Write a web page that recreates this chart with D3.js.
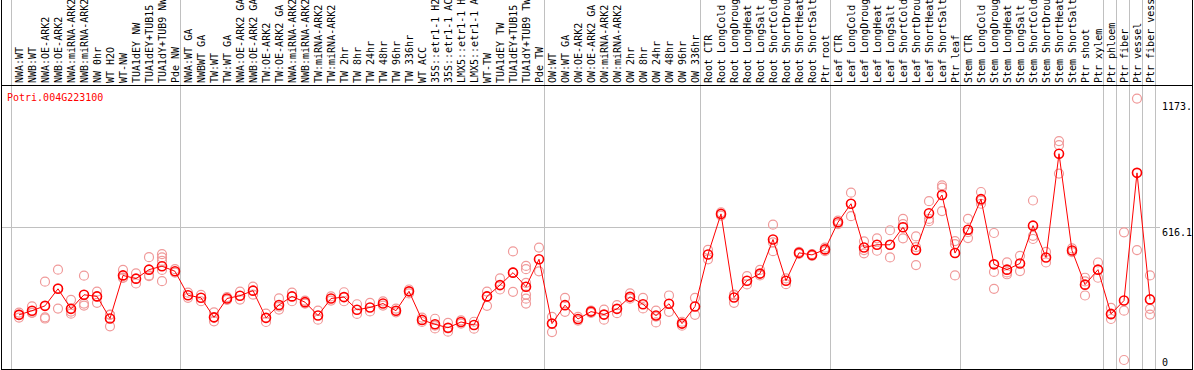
<!DOCTYPE html>
<html>
<head>
<meta charset="utf-8">
<script src="https://cdn.jsdelivr.net/npm/d3@7"></script>
<style>
body { margin: 0; background: #fff; }
text { font-family: "DejaVu Sans Mono", monospace; font-size: 10px; }
</style>
</head>
<body>
<div id="chart"></div>
<script>
var geneName = "Potri.004G223100";

var sampleLabels = [
  "NWA:WT","NWB:WT","NWA:OE-ARK2","NWB:OE-ARK2","NWA:miRNA-ARK2","NWB:miRNA-ARK2","NW 0hr","WT H2O","WT-NW","TUA1dEY NW","TUA1dEY+TUB15","TUA1dY+TUB9 NW","Pde NW",
  "NWA:WT GA","NWBWT GA","TW:WT","TW:WT GA","NWA:OE-ARK2 GA","NWB:OE-ARK2 GA","TW:OE-ARK2","TW:OE-ARK2 GA","NWA:miRNA-ARK2","NWB:miRNA-ARK2","TW:miRNA-ARK2","TW:miRNA-ARK2","TW 2hr","TW 8hr","TW 24hr","TW 48hr","TW 96hr","TW 336hr","WT ACC","35S::etr1-1 H2","35S::etr1-1 AC","LMX5::etr1-1 H","LMX5::etr1-1 A","WT-TW","TUA1dEY TW","TUA1dEY+TUB15","TUA1dY+TUB9 TW","Pde TW",
  "OW:WT","OW:WT GA","OW:OE-ARK2","OW:OE-ARK2 GA","OW:miRNA-ARK2","OW:miRNA-ARK2","OW 2hr","OW 8hr","OW 24hr","OW 48hr","OW 96hr","OW 336hr",
  "Root CTR","Root LongCold","Root LongDroug","Root LongHeat","Root LongSalt","Root ShortCold","Root ShortDrou","Root ShortHeat","Root ShortSalt","Ptr root",
  "Leaf CTR","Leaf LongCold","Leaf LongDroug","Leaf LongHeat","Leaf LongSalt","Leaf ShortCold","Leaf ShortDrou","Leaf ShortHeat","Leaf ShortSalt","Ptr leaf",
  "Stem CTR","Stem LongCold","Stem LongDroug","Stem LongHeat","Stem LongSalt","Stem ShortCold","Stem ShortDrou","Stem ShortHeat","Stem ShortSalt","Ptr shoot","Ptr xylem",
  "Ptr phloem","Ptr fiber","Ptr vessel","Ptr fiber vess"
];

// index where each sample group begins (last = end)
var groupBreaks = [0, 13, 41, 53, 63, 73, 84, 85, 86, 87, 88];

var meanValues = [
  235, 253, 274, 348, 261, 322, 315, 219, 406, 392, 431, 446, 424,
  320, 309, 224, 306, 318, 340, 222, 278, 315, 290, 232, 306, 312, 257, 267, 284, 253, 337, 213, 194, 179, 204, 191, 315, 364, 418, 357, 476,
  197, 277, 217, 249, 236, 261, 313, 281, 232, 283, 197, 271,
  497, 673, 310, 383, 414, 562, 383, 504, 495, 519,
  637, 717, 527, 539, 539, 615, 516, 676, 755, 503,
  604, 737, 454, 431, 458, 622, 484, 934, 514, 366, 431,
  239, 297, 851, 302
];

var replicateValues = [
  [245, 223, 236], [272, 243, 245], [379, 224, 219], [431, 262, 350], [300, 240, 249], [405, 284, 275], [336, 287, 315], [235, 185, 236], [430, 395, 397], [415, 371], [485, 403, 406], [498, 484, 469, 430, 381], [433, 418],
  [331, 309], [322, 294], [246, 207, 223], [312, 300], [336, 301], [357, 323], [240, 204], [306, 258, 271], [331, 294], [297, 284], [253, 214], [315, 297], [333, 294], [281, 239], [287, 250], [293, 275], [262, 246], [345, 328], [223, 204], [218, 176, 188], [200, 162, 176], [211, 197], [205, 175], [336, 274, 315], [393, 345], [510, 335, 419], [447, 433, 374, 323, 305, 284], [527, 424],
  [226, 160], [309, 248], [226, 210], [253, 243], [258, 214], [277, 242], [328, 305], [309, 263], [253, 202, 227], [319, 248], [188, 205], [309, 235],
  [517, 476], [680, 665], [287, 320, 323], [403, 367], [430, 406], [626, 511, 549], [368, 393], [508, 499], [499, 491], [527, 511],
  [644, 629], [765, 663, 717], [554, 502, 516], [567, 513], [602, 484, 537], [651, 567, 629], [575, 451, 529], [728, 651, 641], [797, 787, 685], [555, 542, 406],
  [651, 568, 594], [768, 717, 730], [590, 421, 348], [463, 411, 419], [491, 425], [731, 578, 564], [508, 462], [989, 971, 848], [523, 507], [396, 319, 380], [462, 396],
  [265, 217, 236], [593, 253, 39], [1173.4, 516], [406, 261, 236]
];

var yTicks = [0, 616.1, 1173.4];
var yTickLabels = ["0", "616.1", "1173."];

var width = 1194, height = 370;
var headerBottom = 85, plotBottom = 369, plotLeft = 11, plotRight = 1155;

var svg = d3.select("#chart")
  .append("svg")
  .attr("width", width)
  .attr("height", height);

var x = d3.scaleLinear()
  .domain([0, sampleLabels.length])
  .range([plotLeft, plotRight]);

var y = d3.scaleLinear()
  .domain([0, 2 * 616.1])
  .range([plotBottom, headerBottom]);

function px(i) { return x(i) + 8; }

svg.append("clipPath").attr("id", "clipAll")
  .append("rect").attr("x", 0).attr("y", 0).attr("width", 1193).attr("height", height);

var g = svg.append("g").attr("clip-path", "url(#clipAll)");

// horizontal grid line at the middle value
g.append("line")
  .attr("x1", 1).attr("x2", 1160)
  .attr("y1", y(616.1) + 0.5).attr("y2", y(616.1) + 0.5)
  .style("stroke", "#c0c0c0");

// group separators
g.selectAll(".sep")
  .data(groupBreaks)
  .enter()
  .append("line")
  .attr("class", "sep")
  .attr("x1", function(d) { return x(d) + 0.5; })
  .attr("x2", function(d) { return x(d) + 0.5; })
  .attr("y1", 0)
  .attr("y2", plotBottom)
  .style("stroke", "#c0c0c0");

// sample labels, rotated
g.selectAll(".slabel")
  .data(sampleLabels)
  .enter()
  .append("text")
  .attr("class", "slabel")
  .attr("transform", function(d, i) {
    return "translate(" + (x(i) + 11.5) + "," + (headerBottom - 2) + ") rotate(-90)";
  })
  .style("fill", "#000")
  .text(function(d) { return d; });

// frame
g.append("line").attr("x1", 1.5).attr("x2", 1.5).attr("y1", 0).attr("y2", plotBottom).style("stroke", "#000");
g.append("line").attr("x1", 1192.5).attr("x2", 1192.5).attr("y1", 0).attr("y2", plotBottom).style("stroke", "#000");
g.append("line").attr("x1", 1).attr("x2", 1193).attr("y1", headerBottom + 0.5).attr("y2", headerBottom + 0.5).style("stroke", "#000");
g.append("line").attr("x1", 1).attr("x2", 1193).attr("y1", plotBottom + 0.5).attr("y2", plotBottom + 0.5).style("stroke", "#000");

// y labels on the right
var tickDy = [-3, 9, 11];
g.selectAll(".ylab")
  .data(yTicks)
  .enter()
  .append("text")
  .attr("class", "ylab")
  .attr("x", 1162)
  .attr("y", function(d, i) { return y(d) + tickDy[i]; })
  .style("fill", "#000")
  .text(function(d, i) { return yTickLabels[i]; });

// gene name
g.append("text")
  .attr("x", 7)
  .attr("y", 101)
  .style("fill", "red")
  .text(geneName);

// replicate points
var reps = [];
replicateValues.forEach(function(arr, i) {
  arr.forEach(function(v) { reps.push({i: i, v: v}); });
});

g.selectAll(".rep")
  .data(reps)
  .enter()
  .append("circle")
  .attr("class", "rep")
  .attr("cx", function(d) { return px(d.i); })
  .attr("cy", function(d) { return y(d.v); })
  .attr("r", 4.5)
  .style("fill", "none")
  .style("stroke", "#f09a9a")
  .style("stroke-width", 1.2);

// mean line
var line = d3.line()
  .x(function(d, i) { return px(i); })
  .y(function(d) { return y(d); });

g.append("path")
  .datum(meanValues)
  .attr("d", line)
  .style("fill", "none")
  .style("stroke", "red")
  .style("stroke-width", 1);

// mean points
g.selectAll(".mean")
  .data(meanValues)
  .enter()
  .append("circle")
  .attr("class", "mean")
  .attr("cx", function(d, i) { return px(i); })
  .attr("cy", function(d) { return y(d); })
  .attr("r", 4.5)
  .style("fill", "none")
  .style("stroke", "red")
  .style("stroke-width", 1.6);
</script>
</body>
</html>
